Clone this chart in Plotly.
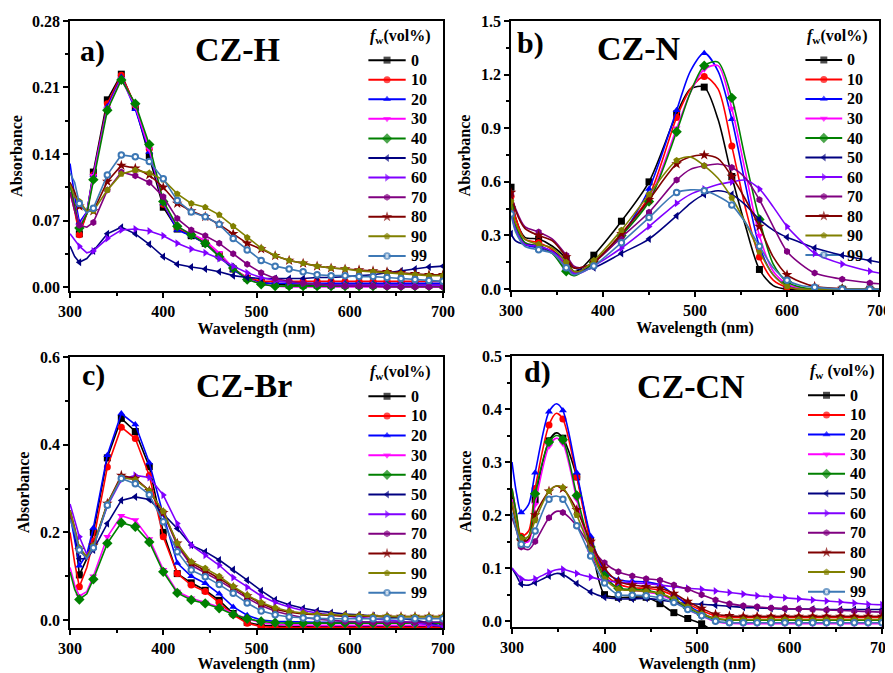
import plotly.graph_objects as go

# wavelength grids (nm)
wl = [300, 305, 310, 318, 325, 340, 355, 370, 385, 400, 415, 430, 445, 460, 475,
      490, 505, 520, 535, 550, 565, 580, 595, 610, 625, 640, 655, 670, 685, 700]
wl_b = [300, 305, 315, 330, 345, 360, 368, 375, 390, 420, 450, 480, 495, 510, 525,
        540, 555, 570, 585, 600, 615, 630, 660, 690, 700]
wl_d = [300, 305, 310, 318, 325, 340, 348, 355, 370, 385, 400, 415, 430, 445, 460, 475,
        490, 505, 520, 535, 550, 565, 580, 595, 610, 625, 640, 655, 670, 685, 700]

fw = ["0", "10", "20", "30", "40", "50", "60", "70", "80", "90", "99"]
colors = ["#000000", "#FF0000", "#0000FF", "#FF00FF", "#008000", "#000080",
          "#8000FF", "#800080", "#800000", "#808000", "#3D78B5"]
symbols = ["square", "circle", "triangle-up", "triangle-down", "diamond",
           "triangle-left", "triangle-right", "hexagon", "star", "pentagon", "circle"]

# a) CZ-H, one row per fw
czh = [
    [0.110, 0.085, 0.056, 0.078, 0.121, 0.197, 0.224, 0.190, 0.138, 0.084, 0.061, 0.054, 0.046, 0.033, 0.019,
     0.009, 0.005, 0.003, 0.002, 0.002, 0.002, 0.002, 0.002, 0.002, 0.002, 0.002, 0.002, 0.002, 0.002, 0.002],
    [0.100, 0.080, 0.055, 0.077, 0.118, 0.193, 0.223, 0.191, 0.145, 0.087, 0.062, 0.055, 0.047, 0.034, 0.019,
     0.010, 0.006, 0.006, 0.006, 0.006, 0.006, 0.006, 0.006, 0.006, 0.006, 0.006, 0.006, 0.006, 0.006, 0.006],
    [0.130, 0.095, 0.068, 0.079, 0.118, 0.190, 0.221, 0.187, 0.142, 0.088, 0.060, 0.054, 0.046, 0.033, 0.018,
     0.009, 0.004, 0.004, 0.004, 0.004, 0.004, 0.004, 0.004, 0.004, 0.004, 0.004, 0.004, 0.004, 0.004, 0.004],
    [0.110, 0.088, 0.064, 0.078, 0.117, 0.188, 0.219, 0.190, 0.145, 0.089, 0.063, 0.056, 0.049, 0.036, 0.020,
     0.009, 0.003, 0.001, 0.000, 0.000, 0.000, 0.000, 0.000, 0.000, 0.000, 0.000, 0.000, 0.000, 0.000, 0.000],
    [0.108, 0.085, 0.062, 0.077, 0.113, 0.186, 0.218, 0.193, 0.150, 0.090, 0.064, 0.055, 0.046, 0.032, 0.020,
     0.008, 0.003, 0.001, 0.001, 0.001, 0.001, 0.001, 0.001, 0.001, 0.001, 0.001, 0.001, 0.001, 0.001, 0.001],
    [0.043, 0.032, 0.026, 0.030, 0.038, 0.056, 0.063, 0.056, 0.045, 0.032, 0.024, 0.021, 0.019, 0.016, 0.012,
     0.010, 0.009, 0.009, 0.009, 0.009, 0.010, 0.010, 0.011, 0.012, 0.013, 0.015, 0.017, 0.019, 0.021, 0.022],
    [0.056, 0.050, 0.043, 0.036, 0.038, 0.051, 0.060, 0.061, 0.059, 0.054, 0.046, 0.040, 0.036, 0.030, 0.022,
     0.015, 0.010, 0.007, 0.005, 0.004, 0.003, 0.002, 0.002, 0.002, 0.002, 0.002, 0.002, 0.002, 0.002, 0.002],
    [0.100, 0.080, 0.065, 0.063, 0.068, 0.102, 0.121, 0.117, 0.110, 0.095, 0.072, 0.060, 0.054, 0.046, 0.035,
     0.024, 0.015, 0.009, 0.006, 0.004, 0.003, 0.002, 0.001, 0.001, 0.001, 0.000, 0.000, 0.000, 0.000, 0.000],
    [0.110, 0.100, 0.085, 0.080, 0.080, 0.111, 0.128, 0.125, 0.118, 0.105, 0.088, 0.080, 0.074, 0.066, 0.056,
     0.046, 0.040, 0.033, 0.028, 0.025, 0.022, 0.020, 0.019, 0.018, 0.017, 0.016, 0.015, 0.014, 0.013, 0.013],
    [0.108, 0.095, 0.090, 0.080, 0.080, 0.102, 0.119, 0.123, 0.120, 0.113, 0.098, 0.088, 0.084, 0.076, 0.064,
     0.052, 0.041, 0.033, 0.028, 0.025, 0.022, 0.020, 0.019, 0.017, 0.016, 0.015, 0.014, 0.013, 0.012, 0.012],
    [0.120, 0.110, 0.088, 0.078, 0.083, 0.118, 0.139, 0.137, 0.132, 0.114, 0.091, 0.079, 0.074, 0.066, 0.051,
     0.039, 0.028, 0.022, 0.019, 0.016, 0.013, 0.012, 0.012, 0.011, 0.011, 0.010, 0.009, 0.008, 0.007, 0.006],
]

# b) CZ-N
czn = [
    [0.57, 0.40, 0.29, 0.28, 0.24, 0.17, 0.10, 0.11, 0.19, 0.38, 0.60, 0.98, 1.12, 1.13, 0.95,
     0.63, 0.35, 0.11, 0.02, 0.00, 0.00, 0.00, 0.00, 0.00, 0.00],
    [0.52, 0.40, 0.28, 0.26, 0.22, 0.13, 0.09, 0.10, 0.15, 0.31, 0.52, 0.96, 1.12, 1.19, 1.12,
     0.80, 0.45, 0.18, 0.05, 0.01, 0.00, 0.00, 0.00, 0.00, 0.00],
    [0.45, 0.35, 0.25, 0.23, 0.20, 0.12, 0.085, 0.10, 0.15, 0.30, 0.56, 1.00, 1.22, 1.32, 1.22,
     0.95, 0.58, 0.24, 0.08, 0.02, 0.00, 0.00, 0.00, 0.00, 0.00],
    [0.47, 0.36, 0.26, 0.24, 0.20, 0.11, 0.08, 0.09, 0.15, 0.30, 0.50, 0.90, 1.10, 1.23, 1.25,
     1.01, 0.65, 0.30, 0.10, 0.03, 0.005, 0.00, 0.00, 0.00, 0.00],
    [0.46, 0.36, 0.26, 0.24, 0.20, 0.10, 0.075, 0.09, 0.15, 0.30, 0.49, 0.88, 1.10, 1.25, 1.27,
     1.07, 0.72, 0.39, 0.14, 0.04, 0.01, 0.00, 0.00, 0.00, 0.00],
    [0.31, 0.27, 0.25, 0.24, 0.21, 0.16, 0.12, 0.11, 0.12, 0.20, 0.28, 0.41, 0.48, 0.53, 0.55,
     0.53, 0.47, 0.39, 0.33, 0.29, 0.26, 0.23, 0.19, 0.16, 0.15],
    [0.43, 0.33, 0.25, 0.24, 0.21, 0.14, 0.09, 0.09, 0.13, 0.23, 0.35, 0.48, 0.53, 0.56, 0.585,
     0.60, 0.61, 0.56, 0.46, 0.35, 0.27, 0.20, 0.14, 0.10, 0.09],
    [0.53, 0.45, 0.35, 0.32, 0.28, 0.19, 0.13, 0.12, 0.15, 0.29, 0.43, 0.61, 0.67, 0.69, 0.70,
     0.68, 0.62, 0.50, 0.35, 0.21, 0.14, 0.09, 0.055, 0.035, 0.03],
    [0.54, 0.44, 0.34, 0.30, 0.27, 0.18, 0.12, 0.12, 0.15, 0.31, 0.50, 0.70, 0.74, 0.75, 0.73,
     0.63, 0.50, 0.35, 0.18, 0.08, 0.04, 0.015, 0.003, 0.00, 0.00],
    [0.49, 0.37, 0.28, 0.25, 0.23, 0.15, 0.10, 0.10, 0.16, 0.33, 0.53, 0.72, 0.74, 0.69, 0.62,
     0.51, 0.37, 0.21, 0.08, 0.015, 0.00, 0.00, 0.00, 0.00, 0.00],
    [0.42, 0.32, 0.24, 0.22, 0.20, 0.12, 0.08, 0.09, 0.13, 0.26, 0.40, 0.54, 0.555, 0.55, 0.52,
     0.47, 0.37, 0.24, 0.12, 0.05, 0.02, 0.01, 0.00, 0.00, 0.00],
]

# c) CZ-Br
czbr = [
    [0.250, 0.200, 0.103, 0.140, 0.200, 0.370, 0.460, 0.430, 0.350, 0.200, 0.106, 0.085, 0.068, 0.045, 0.015,
     -0.005, -0.012, -0.014, -0.015, -0.015, -0.015, -0.015, -0.015, -0.015, -0.015, -0.015, -0.015, -0.015, -0.015, -0.015],
    [0.200, 0.130, 0.076, 0.120, 0.180, 0.349, 0.440, 0.414, 0.330, 0.190, 0.106, 0.080, 0.065, 0.040, 0.012,
     -0.007, -0.015, -0.017, -0.017, -0.017, -0.017, -0.017, -0.017, -0.017, -0.017, -0.017, -0.017, -0.017, -0.017, -0.017],
    [0.240, 0.180, 0.124, 0.150, 0.210, 0.376, 0.471, 0.446, 0.359, 0.240, 0.130, 0.100, 0.084, 0.060, 0.030,
     0.011, 0.000, -0.003, -0.004, -0.005, -0.005, -0.005, -0.005, -0.005, -0.005, -0.005, -0.005, -0.005, -0.005, -0.005],
    [0.120, 0.080, 0.055, 0.065, 0.100, 0.190, 0.238, 0.228, 0.185, 0.115, 0.065, 0.050, 0.040, 0.030, 0.015,
     0.003, -0.006, -0.010, -0.011, -0.012, -0.012, -0.012, -0.012, -0.012, -0.012, -0.012, -0.012, -0.012, -0.012, -0.012],
    [0.110, 0.070, 0.047, 0.060, 0.093, 0.175, 0.222, 0.213, 0.178, 0.110, 0.062, 0.046, 0.038, 0.027, 0.013,
     0.003, -0.003, -0.006, -0.007, -0.007, -0.007, -0.007, -0.007, -0.007, -0.007, -0.007, -0.007, -0.007, -0.007, -0.007],
    [0.240, 0.200, 0.140, 0.140, 0.160, 0.220, 0.273, 0.281, 0.275, 0.243, 0.209, 0.171, 0.156, 0.137, 0.115,
     0.091, 0.067, 0.046, 0.035, 0.027, 0.021, 0.017, 0.014, 0.012, 0.010, 0.007, 0.004, 0.000, -0.007, -0.015],
    [0.265, 0.230, 0.190, 0.150, 0.170, 0.260, 0.320, 0.330, 0.325, 0.285, 0.220, 0.171, 0.148, 0.125, 0.097,
     0.075, 0.055, 0.040, 0.030, 0.022, 0.016, 0.012, 0.009, 0.007, 0.004, 0.001, -0.003, -0.007, -0.011, -0.014],
    [0.240, 0.200, 0.160, 0.140, 0.165, 0.265, 0.325, 0.322, 0.295, 0.245, 0.170, 0.125, 0.108, 0.090, 0.070,
     0.050, 0.033, 0.020, 0.012, 0.006, 0.002, -0.001, -0.003, -0.004, -0.005, -0.005, -0.005, -0.005, -0.005, -0.005],
    [0.250, 0.210, 0.160, 0.145, 0.170, 0.266, 0.330, 0.323, 0.295, 0.245, 0.175, 0.130, 0.113, 0.095, 0.075,
     0.055, 0.038, 0.025, 0.018, 0.014, 0.012, 0.010, 0.009, 0.009, 0.008, 0.008, 0.008, 0.008, 0.008, 0.008],
    [0.250, 0.210, 0.165, 0.145, 0.170, 0.265, 0.325, 0.320, 0.295, 0.248, 0.175, 0.133, 0.118, 0.100, 0.077,
     0.057, 0.040, 0.028, 0.020, 0.016, 0.013, 0.012, 0.011, 0.010, 0.009, 0.009, 0.008, 0.008, 0.008, 0.008],
    [0.230, 0.200, 0.160, 0.140, 0.165, 0.262, 0.323, 0.311, 0.286, 0.224, 0.156, 0.114, 0.099, 0.081, 0.061,
     0.039, 0.021, 0.012, 0.007, 0.005, 0.004, 0.003, 0.003, 0.003, 0.003, 0.003, 0.003, 0.003, 0.003, 0.003],
]

# d) CZ-CN
czcn = [
    [0.240, 0.190, 0.145, 0.155, 0.229, 0.340, 0.355, 0.345, 0.272, 0.150, 0.050, 0.045, 0.045, 0.045, 0.033, 0.016,
     0.005, -0.005, -0.020, -0.020, -0.020, -0.020, -0.020, -0.020, -0.020, -0.020, -0.020, -0.020, -0.020, -0.020, -0.020],
    [0.250, 0.200, 0.160, 0.170, 0.250, 0.370, 0.392, 0.381, 0.272, 0.150, 0.090, 0.070, 0.063, 0.062, 0.058, 0.048,
     0.033, 0.020, 0.010, 0.007, 0.007, 0.007, 0.007, 0.007, 0.007, 0.007, 0.007, 0.007, 0.007, 0.007, 0.007],
    [0.300, 0.240, 0.205, 0.220, 0.280, 0.395, 0.410, 0.397, 0.280, 0.160, 0.095, 0.078, 0.075, 0.074, 0.068, 0.050,
     0.030, 0.015, 0.005, 0.002, 0.002, 0.002, 0.002, 0.002, 0.002, 0.002, 0.002, 0.002, 0.002, 0.002, 0.002],
    [0.230, 0.190, 0.150, 0.150, 0.220, 0.330, 0.345, 0.335, 0.230, 0.130, 0.085, 0.062, 0.058, 0.055, 0.050, 0.038,
     0.022, 0.010, -0.001, -0.004, -0.005, -0.005, -0.005, -0.005, -0.005, -0.005, -0.005, -0.005, -0.005, -0.005, -0.005],
    [0.250, 0.200, 0.155, 0.160, 0.240, 0.338, 0.350, 0.342, 0.237, 0.140, 0.085, 0.062, 0.060, 0.058, 0.052, 0.040,
     0.025, 0.012, 0.004, 0.002, 0.002, 0.002, 0.002, 0.002, 0.002, 0.002, 0.002, 0.002, 0.002, 0.002, 0.002],
    [0.100, 0.085, 0.070, 0.068, 0.073, 0.085, 0.090, 0.088, 0.071, 0.055, 0.045, 0.042, 0.042, 0.043, 0.040, 0.036,
     0.033, 0.032, 0.030, 0.028, 0.026, 0.025, 0.024, 0.023, 0.023, 0.023, 0.022, 0.022, 0.022, 0.022, 0.022],
    [0.100, 0.090, 0.080, 0.077, 0.080, 0.092, 0.097, 0.098, 0.090, 0.083, 0.077, 0.073, 0.072, 0.071, 0.068, 0.065,
     0.062, 0.060, 0.057, 0.054, 0.051, 0.048, 0.046, 0.044, 0.042, 0.040, 0.038, 0.036, 0.034, 0.032, 0.031],
    [0.195, 0.170, 0.140, 0.135, 0.150, 0.195, 0.207, 0.205, 0.180, 0.140, 0.110, 0.093, 0.085, 0.080, 0.077, 0.068,
     0.060, 0.050, 0.040, 0.033, 0.029, 0.027, 0.025, 0.024, 0.023, 0.022, 0.021, 0.020, 0.019, 0.018, 0.017],
    [0.220, 0.180, 0.150, 0.155, 0.200, 0.245, 0.255, 0.250, 0.210, 0.150, 0.100, 0.075, 0.068, 0.065, 0.062, 0.052,
     0.037, 0.024, 0.013, 0.010, 0.009, 0.009, 0.009, 0.009, 0.009, 0.009, 0.009, 0.009, 0.009, 0.009, 0.009],
    [0.225, 0.185, 0.155, 0.160, 0.190, 0.245, 0.255, 0.252, 0.200, 0.135, 0.080, 0.060, 0.058, 0.056, 0.052, 0.042,
     0.027, 0.014, 0.005, 0.003, 0.003, 0.003, 0.003, 0.003, 0.003, 0.003, 0.003, 0.003, 0.003, 0.003, 0.003],
    [0.205, 0.170, 0.145, 0.140, 0.170, 0.230, 0.236, 0.230, 0.180, 0.123, 0.072, 0.050, 0.049, 0.048, 0.044, 0.035,
     0.022, 0.010, 0.000, -0.003, -0.003, -0.003, -0.003, -0.003, -0.003, -0.003, -0.003, -0.003, -0.003, -0.003, -0.003],
]

FONT = "Liberation Serif"

# page body has an 8px margin, so the figure is a bit smaller than the window
panels = [
    dict(name="CZ-H", label="a)", wl=wl, data=czh, shape="linear", start=310, step=15,
         xdom=[0.0701, 0.4915], ydom=[0.5744, 0.9805], yr=[-0.0042, 0.28], dt=0.07, fmt=".2f",
         lab=(0.021, 0.89), ttl=(0.448, 0.894), leg="<i>f</i><sub>w</sub>(vol%)"),
    dict(name="CZ-N", label="b)", wl=wl_b, data=czn, shape="spline", start=300, step=30,
         xdom=[0.5684, 0.9842], ydom=[0.5759, 0.9805], yr=[-0.005, 1.5], dt=0.3, fmt=".1f",
         lab=(0.011, 0.918), ttl=(0.348, 0.896), leg="<i>f</i><sub>w</sub>(vol%)"),
    dict(name="CZ-Br", label="c)", wl=wl, data=czbr, shape="linear", start=310, step=15,
         xdom=[0.0701, 0.4915], ydom=[0.0677, 0.4752], yr=[-0.018, 0.6], dt=0.2, fmt=".1f",
         lab=(0.027, 0.934), ttl=(0.467, 0.893), leg="<i>f</i><sub>w</sub>(vol%)"),
    dict(name="CZ-CN", label="d)", wl=wl_d, data=czcn, shape="spline", start=310, step=15,
         xdom=[0.5695, 0.9876], ydom=[0.0692, 0.4767], yr=[-0.011, 0.5], dt=0.1, fmt=".1f",
         lab=(0.027, 0.94), ttl=(0.484, 0.886), leg="<i>f</i><sub>w</sub> (vol%)"),
]

fig = go.Figure()
annotations = []
shapes = []

for i, p in enumerate(panels):
    k = "" if i == 0 else str(i + 1)
    ko = str(i + 5)
    show = [1 if (v >= p["start"] and (v - p["start"]) % p["step"] == 0) else 0 for v in p["wl"]]

    for j, s in enumerate(fw):
        y = p["data"][j]
        if len(y) != len(p["wl"]):
            raise ValueError(f"{p['name']} {s}: {len(y)} vs {len(p['wl'])}")
        open_mk = (j == 10)
        fig.add_trace(go.Scatter(
            x=p["wl"], y=y, mode="lines+markers", name=s, showlegend=False,
            xaxis="x" + k, yaxis="y" + k,
            line=dict(color=colors[j], width=1.6, shape=p["shape"], smoothing=0.8),
            marker=dict(symbol=symbols[j], size=8 if symbols[j] in ("star", "diamond") else (5.5 if open_mk else 7),
                        color="white" if open_mk else colors[j], opacity=show,
                        line=dict(color=colors[j], width=2 if open_mk else 0)),
        ))

    # legend block drawn inside the panel
    rows = [0.855 - 0.0725 * j for j in range(len(fw))]
    fig.add_trace(go.Scatter(
        x=[0.85] * len(fw), y=rows, mode="markers", showlegend=False, hoverinfo="skip",
        xaxis="x" + ko, yaxis="y" + ko,
        marker=dict(symbol=symbols,
                    size=[8 if sy in ("star", "diamond") else 7 for sy in symbols[:10]] + [5.5],
                    color=[("white" if j == 10 else c) for j, c in enumerate(colors)],
                    line=dict(color=colors, width=[2 if j == 10 else 0 for j in range(len(fw))])),
    ))
    for j, s in enumerate(fw):
        shapes.append(dict(type="line", xref=f"x{k} domain", yref=f"y{k} domain", layer="below",
                           x0=0.80, x1=0.90, y0=rows[j], y1=rows[j],
                           line=dict(color=colors[j], width=2)))
        annotations.append(dict(text=f"<b>{s}</b>", xref=f"x{k} domain", yref=f"y{k} domain",
                                x=0.908, y=rows[j], xanchor="left", yanchor="middle", showarrow=False,
                                font=dict(family=FONT, size=16, color="black")))
    annotations.append(dict(text=f"<b>{p['leg']}</b>", xref=f"x{k} domain", yref=f"y{k} domain",
                            x=0.80, y=0.942, xanchor="left", yanchor="middle", showarrow=False,
                            font=dict(family=FONT, size=16, color="black")))
    annotations.append(dict(text=f"<b>{p['label']}</b>", xref=f"x{k} domain", yref=f"y{k} domain",
                            x=p["lab"][0], y=p["lab"][1], xanchor="left", yanchor="middle",
                            showarrow=False, font=dict(family=FONT, size=30, color="black")))
    annotations.append(dict(text=f"<b>{p['name']}</b>", xref=f"x{k} domain", yref=f"y{k} domain",
                            x=p["ttl"][0], y=p["ttl"][1], xanchor="center", yanchor="middle",
                            showarrow=False, font=dict(family=FONT, size=34, color="black")))

    tick_font = dict(family=FONT, size=16, color="black", weight="bold")
    fig.update_layout(**{
        "xaxis" + k: dict(domain=p["xdom"], anchor="y" + k, range=[300, 700], dtick=100,
                          tick0=300, ticks="outside", ticklen=5, tickwidth=1.5, tickcolor="black",
                          minor=dict(dtick=50, ticks="outside", ticklen=3, tickcolor="black"),
                          showline=True, linecolor="black", linewidth=1.5, mirror=True,
                          showgrid=False, zeroline=False, tickfont=tick_font, automargin=False,
                          ticklabeloverflow="allow",
                          title=dict(text="<b>Wavelength (nm)</b>", standoff=3,
                                     font=dict(family=FONT, size=16, color="black"))),
        "yaxis" + k: dict(domain=p["ydom"], anchor="x" + k, range=p["yr"], dtick=p["dt"],
                          tick0=0, tickformat=p["fmt"], ticks="outside", ticklen=5, tickwidth=1.5,
                          tickcolor="black",
                          minor=dict(dtick=p["dt"] / 2, ticks="outside", ticklen=3, tickcolor="black"),
                          showline=True, linecolor="black", linewidth=1.5, mirror=True,
                          showgrid=False, zeroline=False, tickfont=tick_font, automargin=False,
                          ticklabeloverflow="allow",
                          title=dict(text="<b>Absorbance</b>", standoff=6,
                                     font=dict(family=FONT, size=16, color="black"))),
        "xaxis" + ko: dict(overlaying="x" + k, anchor="y" + ko, range=[0, 1], visible=False,
                           automargin=False),
        "yaxis" + ko: dict(overlaying="y" + k, anchor="x" + ko, range=[0, 1], visible=False,
                           automargin=False),
    })

fig.update_layout(
    width=885, height=665,
    margin=dict(l=0, r=0, t=0, b=0, autoexpand=False),
    paper_bgcolor="white", plot_bgcolor="white",
    annotations=annotations, shapes=shapes,
    showlegend=False,
)

fig.write_html("out.html")
